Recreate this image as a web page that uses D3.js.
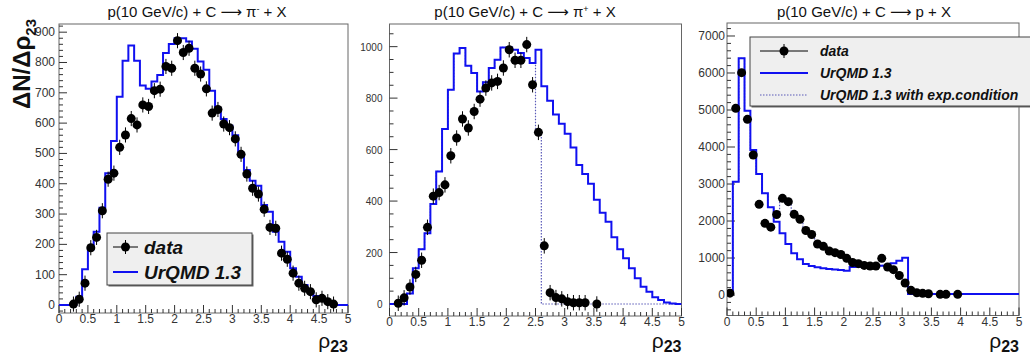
<!DOCTYPE html>
<html>
<head>
<meta charset="utf-8">
<script src="https://cdn.jsdelivr.net/npm/d3@7"></script>
<style>
  body { margin: 0; background: #fff; }
  svg { display: block; font-family: "Liberation Sans", Arial, sans-serif; }
</style>
</head>
<body>
<svg id="chart" width="1030" height="354"></svg>
<script>
// histograms: 50 bins of width 0.1 from rho23 = 0 to 5
const binWidth = 0.1;

// ---- pi- panel ----
const piMinusModel = [0,0,0,27,118,184,242,321,435,541,
  687,806,856,806,724,713,737,759,831,861,
  880,880,869,845,803,776,707,650,614,591,
  560,500,445,410,393,330,308,242,209,176,
  121,93,66,44,30,22,11,5,0,0];
const piMinusX = [0.25,0.35,0.45,0.55,0.65,0.75,0.85,0.95,1.05,1.15,1.25,1.35,1.45,1.55,1.65,1.75,1.85,1.95,
  2.05,2.15,2.25,2.35,2.45,2.55,2.65,2.75,2.85,2.95,3.05,3.15,3.25,3.35,3.45,3.55,3.65,3.75,3.85,3.95,
  4.05,4.15,4.25,4.35,4.45,4.55,4.65,4.75];
const piMinusY = [3,19,72,189,223,311,415,435,520,561,615,594,660,655,707,712,787,781,
  872,833,847,781,762,713,633,645,597,585,548,497,432,385,366,316,256,253,171,151,
  105,72,55,44,17,22,11,3];
const piMinusErr = 25;

// ---- pi+ panel ----
const piPlusModel = [0,0,0,41,139,213,275,389,515,680,
  833,973,995,926,898,826,862,917,949,997,
  997,988,975,956,936,988,846,790,736,700,
  662,608,540,505,467,405,355,320,259,213,
  178,139,100,67,48,26,16,6,2,0];
const piPlusModelExp = [0,0,0,41,139,213,275,389,515,680,
  833,973,995,926,898,826,862,917,949,997,
  997,988,975,956,936,664,0,0,0,0,
  0,0,0,0,0,0,0,0,0,0,
  0,0,0,0,0,0,0,0,0,0];
const piPlusX = [0.15,0.25,0.35,0.45,0.55,0.65,0.75,0.85,0.95,1.05,1.15,1.25,1.35,1.45,1.55,1.65,1.75,1.85,1.95,
  2.05,2.15,2.25,2.35,2.45,2.55,2.65,2.75,2.85,2.95,3.05,3.15,3.25,3.35,3.55];
const piPlusY = [3,24,66,115,170,298,419,433,463,576,645,719,684,748,796,839,859,865,917,
  988,947,947,1008,852,667,226,44,25,20,9,5,5,5,0];
const piPlusErr = 30;

// ---- proton panel ----
const protonModel = [30,3063,6396,4982,3919,3270,2748,2369,1982,1667,
  1378,1126,964,838,784,748,721,703,690,676,
  657,760,766,770,780,793,793,800,856,928,
  1009,30,30,30,30,30,30,30,30,30,
  30,30,30,30,30,30,30,30,30,30];
const protonModelExp = [30,3063,6396,4982,3919,3270,2748,2369,2250,2550,
  2550,2250,2050,1750,1600,1400,1300,1200,1130,1080,
  980,880,840,800,780,790,800,760,680,520,
  320,120,60,45,35,25,25,25,25,25,
  25,25,25,25,25,25,25,25,25,25];
const protonX = [0.05,0.15,0.25,0.35,0.45,0.55,0.65,0.75,0.85,0.95,1.05,1.15,1.25,1.35,1.45,1.55,1.65,1.75,1.85,1.95,
  2.05,2.15,2.25,2.35,2.45,2.55,2.65,2.75,2.85,2.95,3.05,3.15,3.25,3.35,3.45,3.65,3.75,3.95];
const protonY = [50,5045,6009,4748,3784,2450,1937,1835,2175,2613,2523,2180,2045,1745,1635,1378,1315,1190,1145,1095,
  991,880,847,800,784,784,991,757,685,528,324,126,63,45,36,18,18,18];
const protonErr = 100;

const xTickLabels = ["0","0.5","1","1.5","2","2.5","3","3.5","4","4.5","5"];

const svg = d3.select("#chart");
const blue = "#1010f0";
const dotColor = "#5a5ab8";

function drawPanel(p) {
  const x = d3.scaleLinear().domain([0, 5]).range([p.left, p.right]);
  const y = d3.scaleLinear().domain(p.yDomain).range([p.bottom, p.top]);
  const g = svg.append("g");

  const clipId = "clip" + p.id;
  svg.append("clipPath").attr("id", clipId)
    .append("rect").attr("x", p.left).attr("y", p.top)
    .attr("width", p.right - p.left).attr("height", p.bottom - p.top);

  // title
  const t = g.append("text").attr("x", p.titleX).attr("y", 17)
    .attr("text-anchor", "middle").style("font-size", "15px").attr("fill", "#111");
  t.append("tspan").text("p(10 GeV/c) + C ");
  t.append("tspan").style("font-family", "'DejaVu Sans'").text("\u27f6");
  t.append("tspan").text(" " + p.particle);
  if (p.charge) t.append("tspan").attr("baseline-shift", "super").style("font-size", "9px").text(p.charge);
  t.append("tspan").text(" + X");

  // frame
  g.append("rect").attr("x", p.left).attr("y", p.top)
    .attr("width", p.right - p.left).attr("height", p.bottom - p.top)
    .attr("fill", "none").attr("stroke", "#666").attr("stroke-width", 1);

  // x axis ticks (inside, upwards)
  const xMinor = d3.range(0, 51).map(i => i / 10);
  g.selectAll(".xt").data(xMinor).enter().append("line")
    .attr("x1", d => x(d)).attr("x2", d => x(d))
    .attr("y1", p.bottom).attr("y2", (d, i) => p.bottom - (i % 5 === 0 ? 8 : 4))
    .attr("stroke", "#333");
  g.selectAll(".xl").data(xTickLabels).enter().append("text")
    .attr("x", (d, i) => x(i * 0.5)).attr("y", p.bottom + 10)
    .attr("text-anchor", "middle").style("font-size", "12px").attr("fill", "#333").text(d => d);

  // y axis ticks (inside, rightwards)
  const yMinor = d3.range(Math.ceil(p.yDomain[0] / p.yMinor) * p.yMinor, p.yDomain[1], p.yMinor);
  g.selectAll(".yt").data(yMinor).enter().append("line")
    .attr("x1", p.left).attr("x2", d => p.left + (Math.abs(d % p.yMajor) < 1e-6 ? 8 : 4))
    .attr("y1", d => y(d)).attr("y2", d => y(d))
    .attr("stroke", "#333");
  g.selectAll(".yl").data(p.yLabels).enter().append("text")
    .attr("x", p.left - p.labelGap).attr("y", d => y(d) + 4)
    .attr("text-anchor", "end").style("font-size", p.yLabelSize).attr("fill", "#333").text(d => d);

  // x title
  const xt = g.append("text").attr("x", p.right).attr("y", 347.5)
    .attr("text-anchor", "end").attr("fill", "#111");
  xt.append("tspan").style("font-size", "21px").text("\u03c1");
  xt.append("tspan").attr("dy", 4).style("font-size", "16px").style("font-weight", "bold").text("23");

  const plot = g.append("g").attr("clip-path", `url(#${clipId})`);
  const step = d3.line().x(d => x(d[0])).y(d => y(d[1])).curve(d3.curveStepAfter);
  const histPts = arr => arr.map((v, i) => [i * binWidth, v]).concat([[5, arr[arr.length - 1]]]);

  if (p.modelExp) {
    plot.append("path").attr("d", step(histPts(p.modelExp)))
      .attr("fill", "none").attr("stroke", dotColor).attr("stroke-width", 1.2)
      .attr("stroke-dasharray", "1.5,1.5");
  }
  plot.append("path").attr("d", step(histPts(p.model)))
    .attr("fill", "none").attr("stroke", blue).attr("stroke-width", 2);

  const pts = p.dataX.map((d, i) => [d, p.dataY[i]]);
  plot.selectAll(".eb").data(pts).enter().append("line")
    .attr("x1", d => x(d[0])).attr("x2", d => x(d[0]))
    .attr("y1", d => y(d[1] - p.err)).attr("y2", d => y(d[1] + p.err))
    .attr("stroke", "#000").attr("stroke-width", 1);
  plot.selectAll(".pt").data(pts).enter().append("circle")
    .attr("cx", d => x(d[0])).attr("cy", d => y(d[1])).attr("r", 4.5).attr("fill", "#000");
}

drawPanel({id: 1, left: 59, right: 348, top: 24, bottom: 313, yDomain: [-26.4, 927],
  yMajor: 100, yMinor: 20, yLabels: [0,100,200,300,400,500,600,700,800,900], labelGap: 4, yLabelSize: "12px",
  titleX: 197, particle: "\u03c0", charge: "-",
  model: piMinusModel, dataX: piMinusX, dataY: piMinusY, err: piMinusErr});

drawPanel({id: 2, left: 389.5, right: 681.5, top: 24, bottom: 316, yDomain: [-46.6, 1088],
  yMajor: 200, yMinor: 50, yLabels: [0,200,400,600,800,1000], labelGap: 7, yLabelSize: "10px",
  titleX: 525, particle: "\u03c0", charge: "+",
  model: piPlusModel, modelExp: piPlusModelExp, dataX: piPlusX, dataY: piPlusY, err: piPlusErr});

drawPanel({id: 3, left: 727, right: 1019, top: 23, bottom: 315.5, yDomain: [-553, 7351],
  yMajor: 1000, yMinor: 200, yLabels: [0,1000,2000,3000,4000,5000,6000,7000], labelGap: 2, yLabelSize: "12px",
  titleX: 864, particle: "p", charge: null,
  model: protonModel, modelExp: protonModelExp, dataX: protonX, dataY: protonY, err: protonErr});

// y title (left panel)
const yt = svg.append("text").attr("transform", "translate(30,19) rotate(-90)")
  .attr("text-anchor", "end").attr("fill", "#111").style("font-weight", "bold");
yt.append("tspan").style("font-size", "24px").text("\u0394N/\u0394\u03c1");
yt.append("tspan").attr("dy", 6).style("font-size", "15px").text("23");

// legends
function legendBox(x0, y0, w, h) {
  svg.append("rect").attr("x", x0 + 1.5).attr("y", y0 + 1.5).attr("width", w).attr("height", h).attr("fill", "#666");
  svg.append("rect").attr("x", x0).attr("y", y0).attr("width", w).attr("height", h)
    .attr("fill", "#efefef").attr("stroke", "#444").attr("stroke-width", 1);
}
function legendEntry(kind, x0, x1, yc, tx, label, size) {
  if (kind === "data") {
    svg.append("line").attr("x1", x0).attr("x2", x1).attr("y1", yc).attr("y2", yc).attr("stroke", "#000");
    svg.append("line").attr("x1", (x0 + x1) / 2).attr("x2", (x0 + x1) / 2).attr("y1", yc - 7).attr("y2", yc + 7).attr("stroke", "#000");
    svg.append("circle").attr("cx", (x0 + x1) / 2).attr("cy", yc).attr("r", 4.5).attr("fill", "#000");
  } else if (kind === "model") {
    svg.append("line").attr("x1", x0).attr("x2", x1).attr("y1", yc).attr("y2", yc).attr("stroke", blue).attr("stroke-width", 2);
  } else {
    svg.append("line").attr("x1", x0).attr("x2", x1).attr("y1", yc).attr("y2", yc)
      .attr("stroke", dotColor).attr("stroke-width", 1.2).attr("stroke-dasharray", "1.5,1.5");
  }
  svg.append("text").attr("x", tx).attr("y", yc + size * 0.36)
    .style("font-size", size + "px").style("font-weight", "bold").style("font-style", "italic")
    .attr("fill", "#111").text(label);
}

legendBox(107, 233, 145, 52);
legendEntry("data", 113, 138, 247, 144, "data", 19);
legendEntry("model", 113, 138, 272, 144, "UrQMD 1.3", 19);

legendBox(750, 37, 290, 69);
legendEntry("data", 760, 808, 51, 820, "data", 14);
legendEntry("model", 760, 808, 73, 820, "UrQMD 1.3", 14);
legendEntry("exp", 760, 808, 95, 820, "UrQMD 1.3 with exp.condition", 14);
</script>
</body>
</html>
